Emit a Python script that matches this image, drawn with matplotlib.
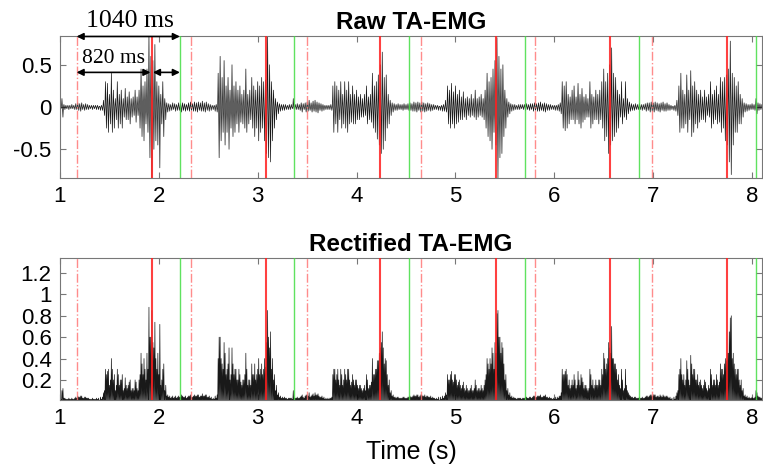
import numpy as np
import matplotlib
matplotlib.use('Agg')
import matplotlib.pyplot as plt

plt.rcParams['font.family'] = ['Liberation Sans', 'DejaVu Sans']

# raw EMG envelope, every 0.02 s starting at 1.00 s, in units of 0.01
# pos = upward excursion, neg = downward excursion
pos_s1 = [3, 10, 3, 2, 2, 2, 3, 2, 4, 5, 4, 5, 3, 4, 3, 2, 2, 2, 2, 2,
          1, 2, 8, 30, 28, 15, 40, 20, 10, 30, 15, 20, 10, 22, 12, 18, 10, 12, 20, 12,
          20, 45, 25, 30, 45, 88, 60, 55, 74, 30]
neg_s1 = [2, 12, 3, 2, 3, 2, 2, 3, 3, 4, 5, 3, 4, 3, 3, 2, 3, 2, 3, 3,
          4, 4, 10, 25, 30, 20, 30, 25, 15, 25, 20, 25, 12, 15, 15, 20, 12, 10, 18, 10,
          25, 35, 40, 20, 30, 60, 85, 50, 40, 45]
pos_s2 = [25, 15, 30, 10, 5, 4, 3, 5, 4, 3, 5, 4, 5, 4, 3, 5, 6, 4, 6, 5,
          6, 5, 7, 5, 6, 4, 3, 2, 2, 3, 40, 60, 35, 55, 25, 35, 20, 50, 25, 30,
          20, 25, 15, 20, 45, 15, 20, 35, 25, 20]
neg_s2 = [72, 20, 35, 15, 6, 5, 4, 3, 5, 4, 4, 6, 4, 5, 4, 5, 4, 5, 5, 6,
          4, 5, 5, 6, 4, 5, 4, 3, 5, 6, 60, 40, 30, 45, 30, 50, 25, 35, 30, 20,
          30, 18, 20, 25, 30, 20, 15, 25, 35, 25]
pos_s3 = [30, 25, 35, 30, 32, 85, 50, 30, 20, 10, 6, 4, 3, 3, 3, 2, 3, 3, 10, 3,
          4, 3, 5, 4, 5, 6, 8, 5, 7, 8, 6, 5, 4, 3, 2, 2, 2, 3, 25, 30,
          25, 20, 30, 15, 30, 20, 30, 15, 25, 15]
neg_s3 = [40, 30, 25, 40, 55, 60, 65, 40, 25, 15, 8, 5, 4, 4, 3, 3, 3, 2, 3, 3,
          3, 4, 6, 3, 6, 5, 4, 6, 5, 6, 7, 4, 5, 4, 3, 3, 3, 4, 30, 20,
          30, 15, 25, 20, 25, 30, 20, 18, 20, 20]
pos_s4 = [20, 12, 15, 10, 15, 25, 12, 15, 40, 25, 30, 38, 50, 65, 35, 38, 15, 8, 5, 4,
          3, 4, 3, 3, 4, 3, 4, 5, 4, 6, 5, 6, 5, 6, 5, 4, 5, 4, 3, 3,
          2, 2, 1, 2, 3, 8, 25, 20, 28, 18]
neg_s4 = [15, 15, 12, 12, 10, 20, 15, 18, 25, 30, 38, 45, 55, 50, 40, 25, 20, 10, 6, 4,
          4, 3, 3, 4, 3, 3, 4, 4, 5, 5, 6, 4, 6, 5, 6, 5, 4, 5, 4, 3,
          3, 4, 4, 5, 5, 6, 20, 25, 20, 25]
pos_s5 = [25, 15, 20, 12, 18, 10, 12, 10, 15, 10, 20, 10, 12, 15, 10, 20, 40, 30, 35, 45,
          55, 82, 60, 45, 50, 20, 10, 6, 4, 3, 3, 2, 3, 3, 3, 3, 4, 3, 4, 4,
          5, 4, 5, 6, 4, 5, 4, 3, 3, 2]
neg_s5 = [20, 18, 15, 15, 12, 15, 10, 12, 10, 12, 15, 12, 10, 12, 15, 25, 35, 40, 50, 30,
          45, 85, 60, 55, 35, 25, 12, 8, 5, 4, 3, 3, 3, 2, 3, 4, 3, 4, 3, 5,
          4, 5, 5, 4, 5, 6, 4, 4, 3, 3]
pos_s6 = [2, 2, 3, 5, 30, 25, 30, 15, 12, 20, 25, 12, 28, 15, 22, 12, 15, 10, 30, 15,
          12, 20, 15, 20, 30, 45, 30, 40, 50, 70, 40, 35, 20, 15, 30, 10, 30, 10, 6, 4,
          3, 4, 3, 4, 3, 3, 4, 5, 5, 6]
neg_s6 = [4, 4, 5, 8, 25, 28, 25, 20, 15, 15, 20, 15, 20, 25, 18, 15, 12, 12, 25, 20,
          15, 15, 20, 15, 25, 40, 35, 55, 45, 40, 35, 30, 25, 12, 20, 12, 15, 8, 5, 4,
          4, 3, 3, 3, 4, 3, 5, 4, 6, 5]
pos_s7 = [5, 6, 5, 4, 5, 6, 4, 5, 3, 2, 1, 2, 8, 25, 40, 20, 15, 38, 20, 43,
          25, 30, 20, 15, 20, 12, 20, 12, 15, 30, 15, 20, 25, 15, 35, 30, 35, 38, 45, 78,
          40, 35, 25, 30, 15, 10, 5, 4, 3, 3]
neg_s7 = [6, 4, 5, 6, 4, 5, 5, 4, 4, 3, 4, 5, 10, 30, 25, 25, 20, 30, 15, 35,
          30, 20, 25, 18, 15, 15, 18, 10, 12, 25, 20, 15, 20, 18, 30, 25, 40, 45, 65, 80,
          45, 30, 30, 20, 20, 12, 6, 5, 4, 3]
pos_s8 = [4, 3, 10, 5, 4, 3]
neg_s8 = [3, 4, 8, 4, 3, 3]

red_lines = [1.927, 3.08, 4.24, 5.41, 6.56, 7.75]
green_lines = [2.213, 3.37, 4.53, 5.70, 6.855, 8.045]
pink_lines = [1.168, 2.33, 3.495, 4.655, 5.80, 6.99]

pos = np.array(pos_s1 + pos_s2 + pos_s3 + pos_s4 + pos_s5 + pos_s6 + pos_s7 + pos_s8) / 100
neg = np.array(neg_s1 + neg_s2 + neg_s3 + neg_s4 + neg_s5 + neg_s6 + neg_s7 + neg_s8) / 100
t = 1 + 0.02 * np.arange(len(pos))
zero = np.zeros_like(pos)
x = np.column_stack([t, t + 0.005, t + 0.01, t + 0.015]).ravel()
raw = np.column_stack([pos, zero, -neg, zero]).ravel()
rect = np.abs(raw)

fig = plt.figure(figsize=(7.63, 4.70), dpi=100)
ax1 = fig.add_axes([0.0786, 0.6213, 0.920, 0.302])
ax2 = fig.add_axes([0.0786, 0.1489, 0.920, 0.302])

for ax, y in [(ax1, raw), (ax2, rect)]:
    ax.plot(x, y, color='black', lw=0.5, alpha=0.9, zorder=2)
    for v in red_lines:
        ax.axvline(v, color='#ff2020', lw=1.5, alpha=0.85, zorder=3)
    for v in green_lines:
        ax.axvline(v, color='#44dd44', lw=1.0, alpha=0.85, zorder=3)
    for v in pink_lines:
        ax.axvline(v, color='#ff7070', lw=1.0, ls='-.', alpha=0.8, zorder=3)
    ax.set_xlim(1, 8.1)
    ax.set_xticks(range(1, 9))
    ax.tick_params(direction='in', top=True, right=True, labelsize=16, length=4,
                   color='#777777', pad=6)
    for s in ax.spines.values():
        s.set_color('#777777')

ax1.set_ylim(-0.84, 0.84)
ax1.set_yticks([-0.5, 0, 0.5])
ax1.set_yticklabels(['-0.5', '0', '0.5'])
ax1.set_title('Raw TA-EMG', fontsize=17.5, fontweight='bold', pad=5)

ax2.set_ylim(0.012, 1.34)
ax2.set_yticks([0.2, 0.4, 0.6, 0.8, 1, 1.2])
ax2.set_yticklabels(['0.2', '0.4', '0.6', '0.8', '1', '1.2'])
ax2.set_title('Rectified TA-EMG', fontsize=17.5, fontweight='bold', pad=5)
ax2.set_xlabel('Time (s)', fontsize=18, labelpad=8)

arrow = dict(arrowstyle='<|-|>', color='black', lw=1.2, mutation_scale=10, shrinkA=0, shrinkB=0)
ax1.annotate('', xy=(2.213, 0.835), xytext=(1.168, 0.835), arrowprops=arrow, annotation_clip=False)
ax1.annotate('', xy=(1.915, 0.41), xytext=(1.168, 0.41), arrowprops=arrow)
ax1.annotate('', xy=(2.213, 0.41), xytext=(1.94, 0.41), arrowprops=arrow)
ax1.text(1.71, 1.02, '1040 ms', fontsize=18.5, family=['Liberation Serif', 'DejaVu Serif'],
         ha='center', va='center', clip_on=False)
ax1.text(1.54, 0.58, '820 ms', fontsize=15.5, family=['Liberation Serif', 'DejaVu Serif'],
         ha='center', va='center', zorder=5)

fig.savefig('out.png', dpi=100)
